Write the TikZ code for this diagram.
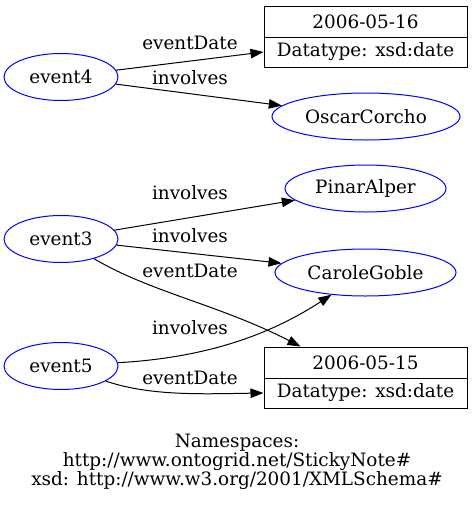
\documentclass[tikz,border=0pt]{standalone}
\usepackage{fontspec}
\setmainfont{DejaVu Serif}
\usepackage{tikz}
\usetikzlibrary{arrows.meta, shapes.geometric}

\begin{document}
\begin{tikzpicture}[
  x=1pt, y=-1pt, >={Triangle[length=13pt, width=9.5pt]},
  font=\fontsize{18.4}{19}\selectfont,
  res/.style={ellipse, draw=blue, line width=1pt, inner sep=0pt, minimum height=47pt},
  lit/.style={rectangle, draw, line width=1pt, inner sep=0pt, minimum width=203pt},
  rel/.style={->, line width=1pt},
  lbl/.style={inner sep=0pt}]
  \useasboundingbox (0,0) rectangle (473,507);
  % subjects
  \node[res, minimum width=114pt] (event4) at (61,77)  {event4};
  \node[res, minimum width=114pt] (event3) at (61,239) {event3};
  \node[res, minimum width=114pt] (event5) at (61,366) {event5};
  % objects
  \node[lit, minimum height=31pt] (date16)     at (365.5,21.5) {2006-05-16};
  \node[lit, minimum height=30pt] (date16type) at (365.5,52)   {Datatype: xsd:date};
  \node[res, minimum width=188pt] (oscar)  at (366,116.5)   {OscarCorcho};
  \node[res, minimum width=161pt] (pinar)  at (365.5,188.5) {PinarAlper};
  \node[res, minimum width=181pt] (carole) at (365.5,272.5) {CaroleGoble};
  \node[lit, minimum height=31pt] (date15)     at (365.5,362.5) {2006-05-15};
  \node[lit, minimum height=30pt] (date15type) at (365.5,393)   {Datatype: xsd:date};
  % edges
  \draw[rel] (event4) -- (date16type.west);
  \draw[rel] (event4) -- (oscar);
  \draw[rel] (event3) -- (pinar);
  \draw[rel] (event3) -- (carole);
  \draw[rel] (event3) .. controls (150,292) and (220,305) .. ([xshift=-65pt]date15.north);
  \draw[rel] (event5) .. controls (200,358) and (265,338) .. (carole);
  \draw[rel] (event5) .. controls (150,396) and (200,394) .. (date15type.west);
  % edge labels
  \node[lbl] (l1) at (190,43)  {eventDate};
  \node[lbl] (l2) at (190,78)  {involves};
  \node[lbl] (l3) at (190,193) {involves};
  \node[lbl] (l4) at (190,236) {involves};
  \node[lbl] (l5) at (190,271) {eventDate};
  \node[lbl] (l6) at (190,328) {involves};
  \node[lbl] (l7) at (190,378) {eventDate};
  % namespaces
  \node[align=center, inner sep=0pt] (ns) at (237,462)
    {Namespaces:\\http://www.ontogrid.net/StickyNote\#\\xsd: http://www.w3.org/2001/XMLSchema\#};
\end{tikzpicture}
\end{document}
